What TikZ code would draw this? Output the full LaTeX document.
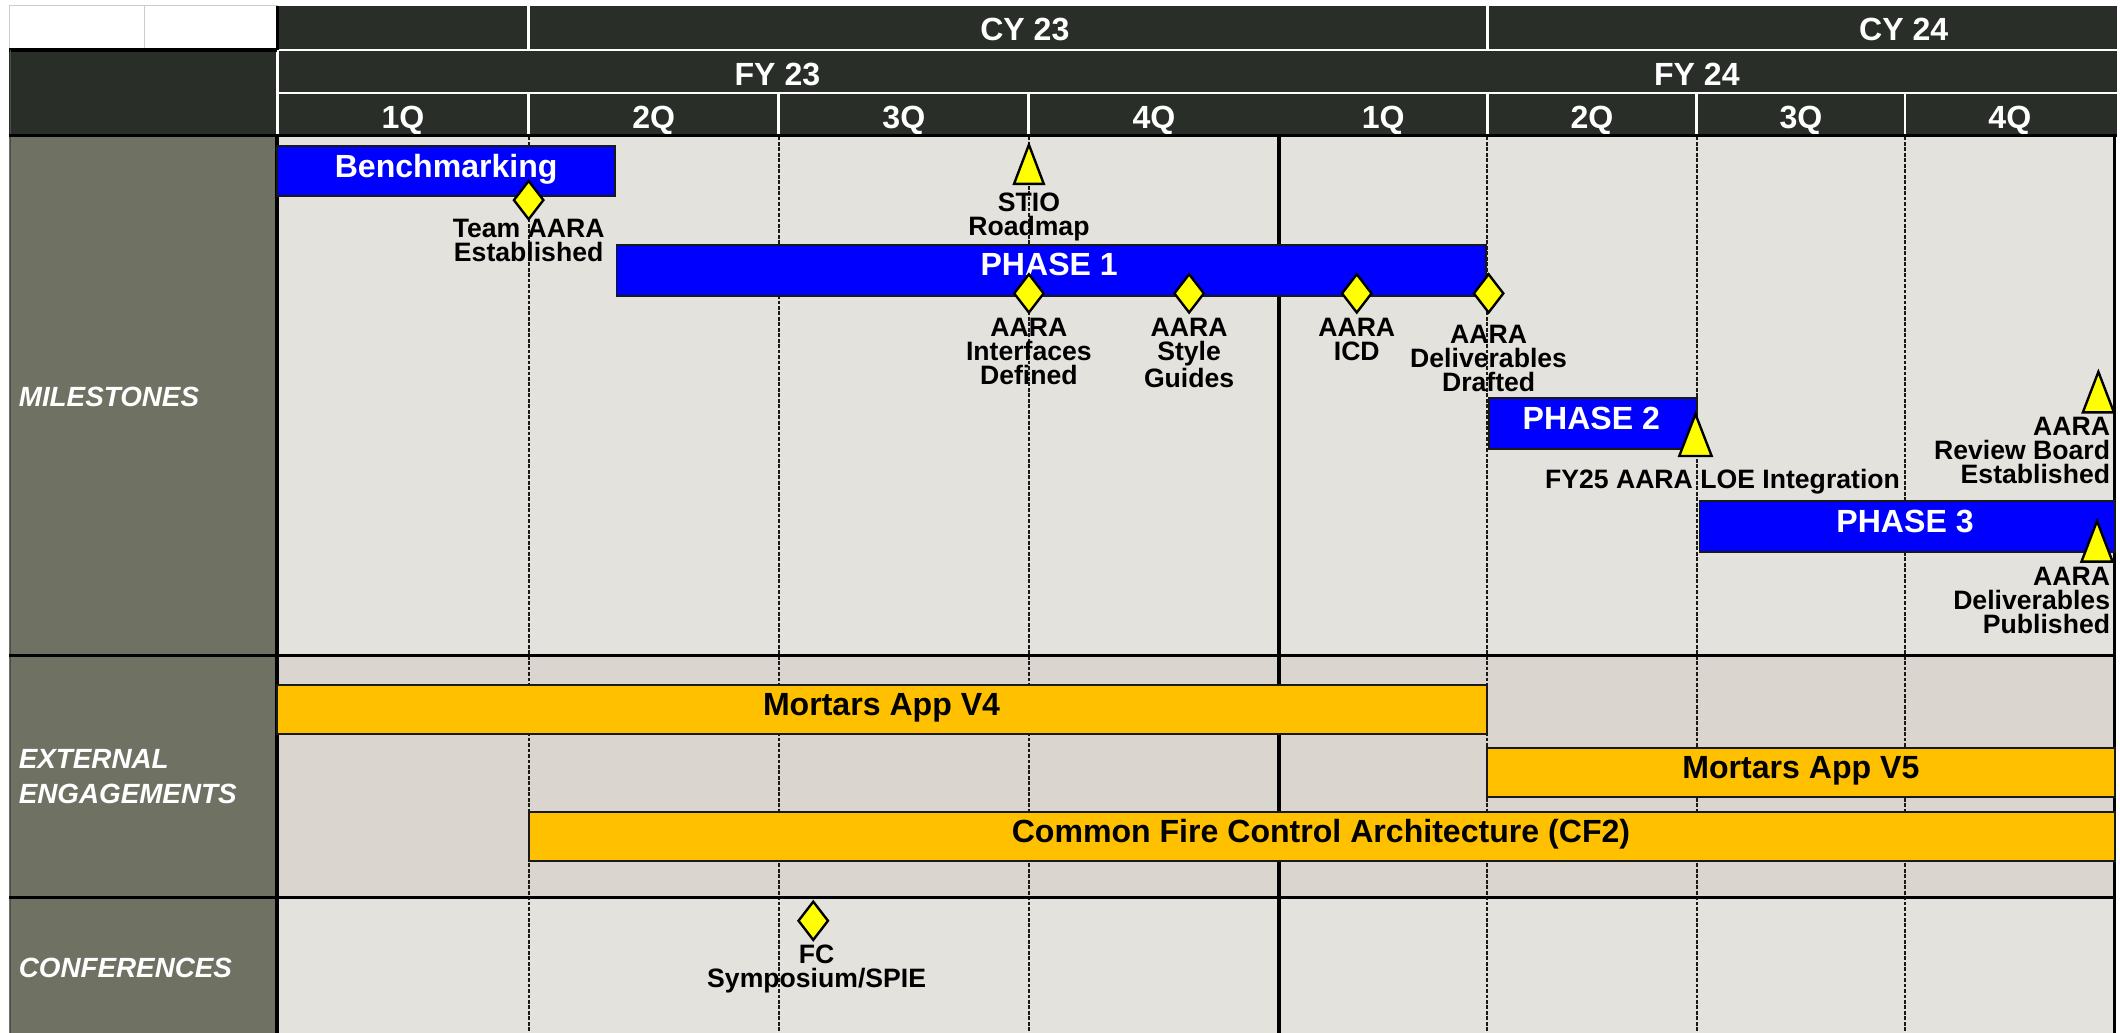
\documentclass[tikz,border=0pt]{standalone}
\usepackage{fontspec}
\setmainfont{Liberation Sans}
\usetikzlibrary{positioning, shapes.geometric}

\definecolor{hdrdark}{RGB}{41,46,41}
\definecolor{sidegray}{RGB}{111,113,99}
\definecolor{panelpale}{RGB}{228,226,221}
\definecolor{panelwarm}{RGB}{218,213,207}
\definecolor{barblue}{RGB}{0,0,255}
\definecolor{barorange}{RGB}{255,192,0}
\definecolor{gemyellow}{RGB}{255,255,0}

\begin{document}
\begin{tikzpicture}[
  x=0.2mm, y=-0.2mm,
  hdr/.style={text=white, font=\fontsize{13.5}{14}\selectfont\bfseries, anchor=base},
  side/.style={text=white, font=\fontsize{11.7}{14.7}\selectfont\bfseries\itshape, anchor=north west, align=left, inner sep=0pt},
  bluebar/.style={fill=barblue, draw=black!90, line width=0.8pt},
  goldbar/.style={fill=barorange, draw=black!90, line width=0.8pt},
  bartxt/.style={font=\fontsize{13.5}{14}\selectfont\bfseries, anchor=base},
  gem/.style={diamond, draw=black, line width=1pt, fill=gemyellow, inner sep=0pt, minimum width=4.5mm, minimum height=5.8mm},
  flag/.style={draw=black, line width=1pt, fill=gemyellow, line join=miter},
  ms/.style={font=\fontsize{11.2}{10.1}\selectfont\bfseries, align=center, inner sep=0pt, anchor=north},
  qline/.style={line width=0.75pt, black!90, dash pattern=on 1.6pt off 0.7pt},
  rule/.style={line width=1.3pt, black}
]
\useasboundingbox (0,0) rectangle (1568,764);

% backgrounds
\fill[hdrdark] (205,4.4) rectangle (1566,100);
\fill[hdrdark] (7,37) rectangle (205,100);
\draw[black!20, fill=white] (7,4.4) rectangle (107,37);
\draw[black!20, fill=white] (107,4.4) rectangle (205,37);
\fill[sidegray] (7,100) rectangle (205,764);
\fill[panelpale] (205,100) rectangle (1564,485);
\fill[panelwarm] (205,485) rectangle (1564,664);
\fill[panelpale] (205,664) rectangle (1564,764);

% header grid
\draw[white, line width=1pt] (205,37) -- (1566,37) (205,69) -- (1566,69);
\draw[white, line width=1.2pt] (391,4.4) -- (391,37) (1100,4.4) -- (1100,37);
\foreach \q in {205,391,576,761,1100,1255,1409}
  \draw[white, line width=1.2pt] (\q,69) -- (\q,100);
\draw[white, line width=1.2pt] (205,37) -- (205,69);
\draw[line width=1.4pt] (7,37) -- (205,37) (205,4.4) -- (205,37);

\node[hdr] (cy23) at (758,29.6) {CY 23};
\node[hdr] (cy24) at (1408,29.6) {CY 24};
\node[hdr] (fy23) at (575,62.9) {FY 23};
\node[hdr] (fy24) at (1255,62.9) {FY 24};
\foreach \x/\t in {298/1Q, 483.5/2Q, 668.5/3Q, 853.5/4Q, 1023/1Q, 1177.5/2Q, 1332/3Q, 1486.5/4Q}
  \node[hdr] (q\x) at (\x,94.9) {\t};

% body grid
\foreach \q in {391,576,761,1100,1255,1409}
  \draw[qline] (\q,101) -- (\q,764);
\draw[line width=1.6pt] (946,101) -- (946,764);
\draw[line width=1.5pt] (205,100) -- (205,764);
\draw[line width=1.5pt] (1564,100) -- (1564,764);
\draw[black!70, line width=0.5pt] (7.5,37) -- (7.5,764);
\draw[rule] (7,100.5) -- (1566,100.5);
\draw[rule] (7,485) -- (1564,485) (7,664) -- (1564,664);

\node[side] (msRow) at (13.6,285.6) {MILESTONES};
\node[side] (extRow) at (13.6,553.6) {EXTERNAL\\ENGAGEMENTS};
\node[side] (confRow) at (13.6,708.2) {CONFERENCES};

% phases
\draw[bluebar] (205,108) rectangle (455,145);
\node[bartxt, text=white] (bench) at (330,131) {Benchmarking};
\draw[bluebar] (456,181) rectangle (1099,219);
\node[bartxt, text=white] (phaseA) at (776,204) {PHASE 1};
\draw[bluebar] (1101,294.6) rectangle (1255,332.3);
\node[bartxt, text=white] (phaseB) at (1177,317.6) {PHASE 2};
\draw[bluebar] (1257,370.3) rectangle (1564,408);
\node[bartxt, text=white] (phaseC) at (1409,393.5) {PHASE 3};

% engagements
\draw[goldbar] (205,506.7) rectangle (1100,543);
\node[bartxt] (mortarsA) at (652,528.9) {Mortars App V4};
\draw[goldbar] (1100,553.5) rectangle (1564,589.7);
\node[bartxt] (mortarsB) at (1332,575.7) {Mortars App V5};
\draw[goldbar] (391,600.8) rectangle (1564,636.8);
\node[bartxt] (cftwo) at (977,623) {Common Fire Control Architecture (CF2)};

% milestones
\node[gem] (teamAARA) at (391,148) {};
\node[ms, below=-0.3mm of teamAARA] (teamAARAlbl) {Team AARA\\Established};

\coordinate (stio) at (761,136);
\draw[flag] (stio) ++(0,-29) -- ++(11,29) -- ++(-22,0) -- cycle;
\node[ms, below=1.2mm of stio] (stiolbl) {STIO\\Roadmap};

\node[gem] (ifaceDef) at (761,217) {};
\node[ms, below=0.5mm of ifaceDef] (ifaceDeflbl) {AARA\\Interfaces\\Defined};
\node[gem] (styleGd) at (879.5,217) {};
\node[ms, below=0.5mm of styleGd] (styleGdlbl) {AARA\\Style\\Guides};
\node[gem] (icd) at (1003.5,217) {};
\node[ms, below=0.5mm of icd] (icdlbl) {AARA\\ICD};
\node[gem] (delivDraft) at (1101,217) {};
\node[ms, below=1.5mm of delivDraft] (delivDraftlbl) {AARA\\Deliverables\\Drafted};

\coordinate (loeInt) at (1254,337.3);
\draw[flag] (loeInt) ++(0,-31) -- ++(12,31) -- ++(-24,0) -- cycle;
\node[ms] (loeIntlbl) at (1274,346.5) {FY25 AARA LOE Integration};

\coordinate (reviewBd) at (1552,305);
\draw[flag] (reviewBd) ++(0,-30) -- ++(11.5,30) -- ++(-23,0) -- cycle;
\node[ms, anchor=north east, align=right] (reviewBdlbl) at (1561,308) {AARA\\Review Board\\Established};

\coordinate (delivPub) at (1551,415.4);
\draw[flag] (delivPub) ++(0,-30) -- ++(11.5,30) -- ++(-23,0) -- cycle;
\node[ms, anchor=north east, align=right] (delivPublbl) at (1561,419) {AARA\\Deliverables\\Published};

% conferences
\node[gem] (fcSym) at (601.5,681) {};
\node[ms, below=0.4mm of fcSym, xshift=0.5mm] (fcSymlbl) {FC\\Symposium/SPIE};

\end{tikzpicture}
\end{document}
